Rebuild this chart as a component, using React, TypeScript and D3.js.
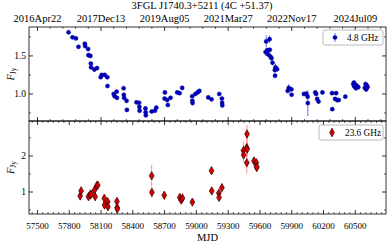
import React from "react";
import * as d3 from "d3";

const W = 389;
const H = 243;

// 4.8 GHz
const mjd48 = [57793,57831,57863,57887,57947,57950,57978,57981,58000,58004,58006,58037,58062,58097,58106,58135,58159,58161,58219,58228,58247,58250,58313,58315,58318,58341,58344,58435,58459,58462,58464,58519,58521,58523,58578,58609,58622,58700,58703,58725,58731,58756,58819,58841,58866,58960,58962,58964,58990,59012,59028,59112,59143,59216,59241,59243,59245,59653,59659,59672,59678,59691,59693,59700,59709,59719,59740,59743,59747,59762,59862,59872,59897,59899,60015,60037,60050,60052,60122,60131,60140,60153,60190,60281,60283,60309,60319,60328,60344,60406,60481,60488,60490,60503,60506,60515,60528,60590,60597,60603,60610,60615];
const flux48 = [1.81,1.745,1.73,1.62,1.66,1.63,1.59,1.51,1.50,1.40,1.35,1.32,1.34,1.22,1.25,1.25,1.22,1.105,1.00,0.97,1.03,0.95,1.075,0.99,0.95,0.91,0.79,0.89,0.885,0.83,0.78,0.81,0.76,0.72,0.77,0.78,0.82,0.94,1.02,0.92,0.855,0.95,1.02,1.01,1.08,0.97,0.91,0.88,1.00,1.02,1.04,0.955,0.93,1.00,0.94,0.885,0.85,1.55,1.69,1.575,1.52,1.72,1.58,1.49,1.47,1.41,1.315,1.24,1.35,1.325,1.04,1.08,1.06,0.99,1.00,1.005,0.965,0.88,1.02,1.00,0.935,0.90,1.02,1.01,0.80,0.935,1.01,0.92,0.92,0.965,1.13,1.15,1.10,1.12,1.075,1.105,1.09,1.08,1.13,1.06,1.11,1.09];
const err48 = [0.02,0.02,0.02,0.02,0.03,0.03,0.02,0.03,0.02,0.02,0.02,0.02,0.02,0.02,0.02,0.02,0.02,0.02,0.02,0.02,0.02,0.02,0.025,0.02,0.02,0.02,0.02,0.02,0.02,0.02,0.02,0.02,0.02,0.02,0.02,0.02,0.02,0.02,0.03,0.02,0.02,0.02,0.02,0.02,0.03,0.02,0.02,0.02,0.02,0.02,0.02,0.02,0.02,0.02,0.02,0.02,0.02,0.05,0.08,0.03,0.03,0.05,0.03,0.03,0.03,0.03,0.04,0.03,0.05,0.03,0.02,0.05,0.02,0.02,0.02,0.02,0.03,0.17,0.02,0.02,0.02,0.02,0.02,0.02,0.02,0.02,0.02,0.02,0.02,0.02,0.03,0.03,0.03,0.03,0.03,0.03,0.03,0.03,0.03,0.03,0.03,0.03];

// 23.6 GHz
const mjd236 = [57903,57912,57981,57997,58006,58037,58044,58059,58069,58131,58133,58163,58165,58250,58252,58254,58578,58580,58697,58843,58856,58869,58962,59143,59145,59212,59214,59241,59444,59446,59475,59478,59480,59476,59544,59566,59568,59570];
const flux236 = [0.89,1.03,0.87,0.92,0.94,1.05,0.87,1.17,1.19,0.825,0.64,0.73,0.59,0.74,0.57,0.53,1.45,0.99,0.91,0.85,0.78,0.83,0.72,1.59,1.03,0.97,0.85,1.12,2.15,2.03,2.23,2.61,2.19,1.81,1.86,1.81,1.70,1.68];
const err236 = [0.1,0.12,0.12,0.15,0.12,0.12,0.1,0.15,0.12,0.12,0.12,0.1,0.08,0.1,0.08,0.06,0.3,0.15,0.12,0.1,0.12,0.15,0.06,0.1,0.1,0.08,0.06,0.08,0.25,0.2,0.3,0.25,0.2,0.3,0.1,0.12,0.15,0.1];

const topDateTicks = [57500,58100,58700,59300,59900,60500];
const topDateLabels = ["2016Apr22","2017Dec13","2019Aug05","2021Mar27","2022Nov17","2024Jul09"];
const mjdTicks = [57500,57800,58100,58400,58700,59000,59300,59600,59900,60200,60500];
const yTopMajor = [1.0, 1.5];
const yTopMinor = [0.75, 1.25, 1.75];
const yBotMajor = [1, 2];
const yBotMinor = [0.5, 1.5, 2.5];

const L = 29, R = 386, T1 = 27, B1 = 121, T2 = 121, B2 = 214;
const FONT = "'Liberation Serif', 'Times New Roman', serif";

export default function App() {
  const x = d3.scaleLinear().domain([57420, 60790]).range([L, R]);
  const yT = d3.scaleLinear().domain([0.645, 1.88]).range([B1, T1]);
  const yB = d3.scaleLinear().domain([0.39, 2.97]).range([B2, T2]);
  const diamond = d3.symbol().type(d3.symbolDiamond).size(20)() as string;

  const [x0, x1] = x.domain();
  const range = (start: number, step: number) => {
    const out: number[] = [];
    const s = Math.ceil((x0 - start) / step) * step + start;
    for (let v = s; v <= x1; v += step) out.push(v);
    return out;
  };
  const topMaj = range(57500, 600);
  const topMin = range(57500, 120).filter((v) => (v - 57500) % 600 !== 0);
  const botMaj = range(57500, 300);
  const botMin = range(57500, 50).filter((v) => (v - 57500) % 300 !== 0);

  const xTicks = (y: number, dir: number, maj: number[], min: number[], key: string) => (
    <g key={key}>
      {maj.map((v) => (
        <line key={"M" + v} x1={x(v)} x2={x(v)} y1={y} y2={y + dir * 4} stroke="#000" strokeWidth={0.8} />
      ))}
      {min.map((v) => (
        <line key={"m" + v} x1={x(v)} x2={x(v)} y1={y} y2={y + dir * 2} stroke="#000" strokeWidth={0.6} />
      ))}
    </g>
  );

  const yTicks = (scale: d3.ScaleLinear<number, number>, maj: number[], min: number[], key: string) => (
    <g key={key}>
      {maj.map((v) => (
        <g key={"M" + v}>
          <line x1={L} x2={L + 4} y1={scale(v)} y2={scale(v)} stroke="#000" strokeWidth={0.8} />
          <line x1={R} x2={R - 4} y1={scale(v)} y2={scale(v)} stroke="#000" strokeWidth={0.8} />
        </g>
      ))}
      {min.map((v) => (
        <g key={"m" + v}>
          <line x1={L} x2={L + 2} y1={scale(v)} y2={scale(v)} stroke="#000" strokeWidth={0.6} />
          <line x1={R} x2={R - 2} y1={scale(v)} y2={scale(v)} stroke="#000" strokeWidth={0.6} />
        </g>
      ))}
    </g>
  );

  return (
    <svg width={W} height={H} style={{ position: "absolute", left: 0, top: 0, background: "#fff" }} fontFamily={FONT}>
      <rect x={0} y={0} width={W} height={H} fill="#fff" />
      <text x={202} y={9} fontSize={10.5} textAnchor="middle">3FGL J1740.3+5211 (4C +51.37)</text>
      {topDateTicks.map((v, i) => (
        <text key={v} x={x(v)} y={22} fontSize={10.5} textAnchor="middle">{topDateLabels[i]}</text>
      ))}

      {/* top panel data */}
      <g>
        {mjd48.map((m, i) => (
          <line key={"e" + i} x1={x(m)} x2={x(m)} y1={yT(flux48[i] - err48[i])} y2={yT(flux48[i] + err48[i])} stroke="#5a5aff" strokeWidth={0.9} />
        ))}
        {mjd48.map((m, i) => (
          <circle key={"p" + i} cx={x(m)} cy={yT(flux48[i])} r={2.1} fill="#0000c0" stroke="#000080" strokeWidth={0.4} />
        ))}
      </g>

      {/* bottom panel data */}
      <g>
        {mjd236.map((m, i) => (
          <line key={"e" + i} x1={x(m)} x2={x(m)} y1={yB(flux236[i] - err236[i])} y2={yB(flux236[i] + err236[i])} stroke="#ff8c8c" strokeWidth={1} />
        ))}
        {mjd236.map((m, i) => (
          <path key={"p" + i} d={diamond} transform={`translate(${x(m)},${yB(flux236[i])})`} fill="#d80000" stroke="#300000" strokeWidth={0.7} />
        ))}
      </g>

      {/* frames */}
      <rect x={L} y={T1} width={R - L} height={B1 - T1} fill="none" stroke="#000" strokeWidth={0.8} />
      <rect x={L} y={T2} width={R - L} height={B2 - T2} fill="none" stroke="#000" strokeWidth={0.8} />

      {xTicks(T1, 1, topMaj, topMin, "t1")}
      {xTicks(B1, -1, topMaj, topMin, "b1")}
      {xTicks(T2, 1, botMaj, botMin, "t2")}
      {xTicks(B2, -1, botMaj, botMin, "b2")}
      {yTicks(yT, yTopMajor, yTopMinor, "yt")}
      {yTicks(yB, yBotMajor, yBotMinor, "yb")}

      {yTopMajor.map((v) => (
        <text key={v} x={26} y={yT(v) + 3.2} fontSize={9.5} textAnchor="end">{v.toFixed(1)}</text>
      ))}
      {yBotMajor.map((v) => (
        <text key={v} x={26} y={yB(v) + 3.2} fontSize={9.5} textAnchor="end">{String(v)}</text>
      ))}
      {mjdTicks.map((v) => (
        <text key={v} x={x(v)} y={228.5} fontSize={9} textAnchor="middle">{v}</text>
      ))}
      <text x={(L + R) / 2} y={241} fontSize={10.5} textAnchor="middle">MJD</text>

      <text transform={`translate(13.5,${(T1 + B1) / 2}) rotate(-90)`} fontSize={10.5} textAnchor="middle">
        <tspan fontStyle="italic">F</tspan>
        <tspan fontSize={7.5} dy={2}>Jy</tspan>
      </text>
      <text transform={`translate(13.5,${(T2 + B2) / 2}) rotate(-90)`} fontSize={10.5} textAnchor="middle">
        <tspan fontStyle="italic">F</tspan>
        <tspan fontSize={7.5} dy={2}>Jy</tspan>
      </text>

      {/* legends */}
      <g>
        <rect x={323} y={30} width={60} height={15} rx={2} fill="#fff" stroke="#aaa" strokeWidth={0.8} />
        <line x1={335} x2={335} y1={33} y2={42} stroke="#5a5aff" strokeWidth={0.9} />
        <circle cx={335} cy={37.5} r={2.1} fill="#0000c0" stroke="#000080" strokeWidth={0.4} />
        <text x={347} y={40.8} fontSize={9.3}>4.8 GHz</text>
      </g>
      <g>
        <rect x={319} y={125} width={64} height={15} rx={2} fill="#fff" stroke="#aaa" strokeWidth={0.8} />
        <line x1={332} x2={332} y1={128} y2={137} stroke="#ff8c8c" strokeWidth={1} />
        <path d={diamond} transform="translate(332,132.5)" fill="#d80000" stroke="#300000" strokeWidth={0.7} />
        <text x={345} y={135.8} fontSize={9.3}>23.6 GHz</text>
      </g>
    </svg>
  );
}
